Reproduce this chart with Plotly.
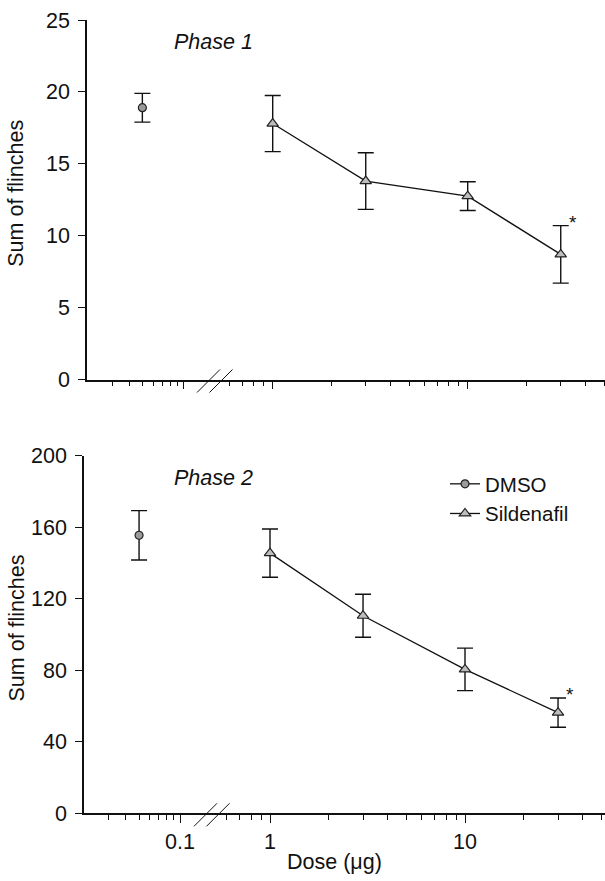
import numpy as np
import plotly.graph_objects as go

# ---------------- data ----------------
dmso_dose = [0.05]
sild_dose = [1, 3, 10, 30]

p1_dmso_mean = [18.9]
p1_dmso_err = [1.0]
p1_sild_mean = [17.8, 13.8, 12.75, 8.7]
p1_sild_err = [1.95, 1.97, 1.0, 2.0]

p2_dmso_mean = [155.5]
p2_dmso_err = [13.8]
p2_sild_mean = [145.5, 110.5, 80.5, 56.3]
p2_sild_err = [13.5, 12.0, 11.9, 8.2]

p1_yticks = [0, 5, 10, 15, 20, 25]
p2_yticks = [0, 40, 80, 120, 160, 200]
x_major_left = [0.1]
x_major_right = [1, 10]
x_minor_left = [0.03, 0.04, 0.05, 0.06, 0.07, 0.08, 0.09]
x_minor_right = [0.6, 0.7, 0.8, 0.9, 2, 3, 4, 5, 6, 7, 8, 9, 20, 30, 40, 50]

# ---------------- layout geometry (pixels) ----------------
W, H = 605, 881
FONT = "Liberation Sans, Arial, sans-serif"
FS = 21.5
DL, DR = 136.0, 195.0  # px per decade, left / right segment


def px(x):
    return x / W


def py(y):
    return 1 - y / H


panels = [
    dict(x0=87, xb=217, p01=183.3, p1=272.7, ytop=20, ybot=379.5, yr=[0, 25], yt=p1_yticks,
         labels=False),
    dict(x0=84, xb=214, p01=180.0, p1=270.0, ytop=455.7, ybot=813.3, yr=[0, 200], yt=p2_yticks,
         labels=True),
]

fig = go.Figure()
layout = dict(
    width=W, height=H, autosize=False,
    margin=dict(l=0, r=0, t=0, b=0, autoexpand=False),
    paper_bgcolor="white", plot_bgcolor="white",
    font=dict(family=FONT, size=FS, color="#111"),
    showlegend=True,
    shapes=[], annotations=[],
)

axis_common = dict(showgrid=False, zeroline=False, showline=True, linecolor="#111",
                   linewidth=1.5, ticks="outside", tickcolor="#111", tickwidth=1.3,
                   automargin=False, tickfont=dict(size=FS, color="#111", family=FONT))

series = [
    (p1_dmso_mean, p1_dmso_err, p1_sild_mean, p1_sild_err),
    (p2_dmso_mean, p2_dmso_err, p2_sild_mean, p2_sild_err),
]

for i, pn in enumerate(panels):
    xl = "x" if i == 0 else f"x{2*i+1}"
    xr = f"x{2*i+2}"
    yn = "y" if i == 0 else f"y{i+1}"
    xl_key = "xaxis" + ("" if i == 0 else str(2 * i + 1))
    xr_key = "xaxis" + str(2 * i + 2)
    y_key = "yaxis" + ("" if i == 0 else str(i + 1))

    l_lo = -1 - (pn["p01"] - pn["x0"]) / DL
    l_hi = -1 + (pn["xb"] - pn["p01"]) / DL
    r_lo = (pn["xb"] - pn["p1"]) / DR
    r_hi = (W - pn["p1"]) / DR

    minor_common = dict(ticks="outside", ticklen=4.5, tickcolor="#111", tickwidth=1.2,
                        showgrid=False, tickmode="array")
    layout[xl_key] = dict(axis_common, type="log", domain=[px(pn["x0"]), px(pn["xb"])],
                          range=[l_lo, l_hi], anchor=yn, tickmode="array",
                          tickvals=x_major_left, ticktext=["0.1"], ticklen=8,
                          showticklabels=pn["labels"], ticklabelstandoff=0,
                          minor=dict(minor_common, tickvals=x_minor_left))
    layout[xr_key] = dict(axis_common, type="log", domain=[px(pn["xb"]), 1],
                          range=[r_lo, r_hi], anchor=yn, tickmode="array",
                          tickvals=x_major_right, ticktext=["1", "10"], ticklen=8,
                          showticklabels=pn["labels"], ticklabelstandoff=0,
                          minor=dict(minor_common, tickvals=x_minor_right))
    layout[y_key] = dict(axis_common, domain=[py(pn["ybot"]), py(pn["ytop"])],
                         range=pn["yr"], anchor=xl, tickmode="array", tickvals=pn["yt"],
                         ticklen=7, ticklabelstandoff=4)

    dm, de, sm, se = series[i]
    fig.add_trace(go.Scatter(
        x=dmso_dose, y=dm, name="DMSO", mode="lines+markers", xaxis=xl, yaxis=yn,
        showlegend=(i == 1), legendrank=1,
        line=dict(color="#111", width=1.3),
        marker=dict(symbol="circle", size=8, color="#9a9a9a",
                    line=dict(color="#222", width=1.2)),
        error_y=dict(type="data", array=de, color="#111", thickness=1.4, width=8),
    ))
    fig.add_trace(go.Scatter(
        x=sild_dose, y=sm, name="Sildenafil", mode="lines+markers", xaxis=xr, yaxis=yn,
        showlegend=(i == 1), legendrank=2,
        line=dict(color="#111", width=1.3),
        marker=dict(symbol="triangle-up", size=10, color="#bdbdbd",
                    line=dict(color="#222", width=1.2)),
        error_y=dict(type="data", array=se, color="#111", thickness=1.4, width=8),
    ))

    # significance asterisk above last Sildenafil point
    layout["annotations"].append(dict(
        x=np.log10(sild_dose[-1]), y=sm[-1] + se[-1], xref=xr, yref=yn, text="*",
        showarrow=False, xshift=12, yshift=3, font=dict(size=19, color="#111")))

    # phase label
    layout["annotations"].append(dict(
        x=px(172), y=py(pn["ytop"] + 22), xref="paper", yref="paper",
        text=f"<i>Phase {i+1}</i>", showarrow=False, xanchor="left", yanchor="middle",
        font=dict(size=FS, color="#111")))

    # y axis title
    layout["annotations"].append(dict(
        x=px(16), y=py((pn["ytop"] + pn["ybot"]) / 2 - 6), xref="paper", yref="paper",
        text="Sum of flinches", textangle=-90, showarrow=False,
        xanchor="center", yanchor="middle", font=dict(size=FS, color="#111")))

    # axis break slashes
    yb = pn["ybot"]
    for dx in (0, 12.5):
        layout["shapes"].append(dict(
            type="line", xref="paper", yref="paper",
            x0=px(pn["xb"] - 20 + dx), y0=py(yb + 13),
            x1=px(pn["xb"] + 3 + dx), y1=py(yb - 10),
            line=dict(color="#111", width=1)))

# x axis title
layout["annotations"].append(dict(
    x=px(334), y=py(862), xref="paper", yref="paper", text="Dose (μg)",
    showarrow=False, xanchor="center", yanchor="middle", font=dict(size=FS, color="#111")))

layout["legend"] = dict(x=px(445), y=py(464), xanchor="left", yanchor="top",
                        bgcolor="rgba(0,0,0,0)", font=dict(size=20.5, color="#111"),
                        itemwidth=30, tracegroupgap=0)

fig.update_layout(**layout)
fig.write_html("out.html")
